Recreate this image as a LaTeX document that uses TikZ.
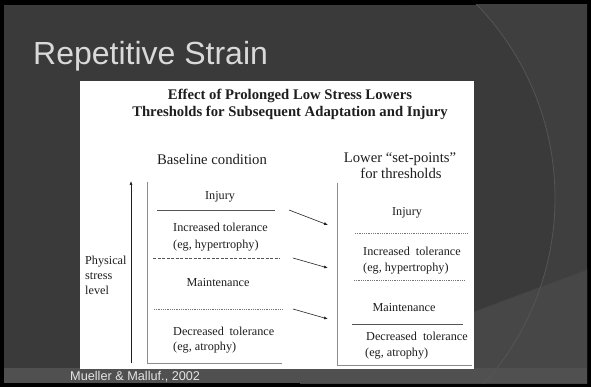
\documentclass[tikz,border=0pt]{standalone}
\usepackage{fontspec}
\setmainfont{Liberation Serif}
\newfontfamily\arialf{Liberation Sans}
\usetikzlibrary{arrows.meta}
\definecolor{slidebg}{HTML}{3A3A3A}
\definecolor{slidebgr}{HTML}{3F3F3F}
\definecolor{slidelow}{HTML}{474747}
\definecolor{footband}{HTML}{505050}
\definecolor{arcline}{HTML}{555555}
\definecolor{titlecol}{HTML}{D9D9D9}
\definecolor{inktext}{HTML}{1E1E1E}
\definecolor{inkline}{HTML}{555555}
\tikzset{
  heading/.style={font=\fontsize{14.7}{16}\selectfont\bfseries, text=inktext, inner sep=0pt, anchor=base, align=center},
  subhead/.style={font=\fontsize{14.7}{16}\selectfont, text=inktext, inner sep=0pt, anchor=base},
  lab/.style={font=\fontsize{12.2}{16}\selectfont, text=inktext, inner sep=0pt, anchor=base west},
  labc/.style={font=\fontsize{12.2}{16}\selectfont, text=inktext, inner sep=0pt, anchor=base},
  solidsep/.style={draw=inkline, line width=0.8pt},
  dashsep/.style={draw=inkline, line width=0.7pt, dash pattern=on 3pt off 1.5pt},
  dotsep/.style={draw=inkline!80, line width=0.7pt, dash pattern=on 1pt off 0.8pt},
  frameline/.style={draw=black!45, line width=0.8pt},
  shiftarrow/.style={draw=inktext, line width=0.6pt, -{Latex[length=4pt,width=3pt]}},
}
\begin{document}
\begin{tikzpicture}[x=1pt,y=-1pt]
\useasboundingbox (0,0) rectangle (591,387);
\fill[black] (0,0) rectangle (591,387);
\begin{scope}
  \clip (4,5) rectangle (587,383);
  \fill[slidebg] (4,5) rectangle (587,383);
  \begin{scope}
    \clip (400,0) rectangle (591,387);
    \fill[slidebgr, even odd rule] (400,0) rectangle (591,387) (277,198) circle (278);
  \end{scope}
  \fill[slidelow] (300,376.5) -- (591,268) -- (591,387) -- (300,387) -- cycle;
  \draw[black!75, line width=0.5pt] (300,376.5) -- (591,268);
  \fill[footband] (4,368) rectangle (587,383);
  \begin{scope}
    \clip (400,0) rectangle (591,387);
    \draw[arcline, line width=0.8pt] (277,198) circle (278);
  \end{scope}
\end{scope}
% title and footer
\node[font=\arialf\fontsize{32}{36}\selectfont, text=titlecol, anchor=base west, inner sep=0pt] (title) at (33,65) {Repetitive Strain};
% white figure
\fill[white] (80,81) rectangle (474,369);
\node[font=\arialf\fontsize{12.7}{14}\selectfont, text=white!90!black, anchor=base west, inner sep=0pt] (cite) at (70,380) {Mueller \& Malluf., 2002};

\node[heading] (h1) at (290,100) {Effect of Prolonged Low Stress Lowers};
\node[heading] (h2) at (290,117) {Thresholds for Subsequent Adaptation and Injury};

\node[subhead] (base) at (212,165) {Baseline condition};
\node[subhead] (low1) at (400,163) {Lower “set-points”};
\node[subhead] (low2) at (401,179) {for thresholds};

% left column
\coordinate (axbot) at (131,363);
\coordinate (axtop) at (131,181);
\draw[draw=inktext, line width=0.6pt, -{Latex[length=4pt,width=3pt]}] (axbot) -- (axtop);
\node[lab] (phys) at (85,265) {Physical};
\node[lab] (stress) at (85,279) {stress};
\node[lab] (level) at (85,294) {level};

\coordinate (lbtop) at (147,182);
\coordinate (lbcorner) at (147,363);
\coordinate (lbend) at (282,363);
\draw[frameline] (lbtop) -- (lbcorner) -- (lbend);

\node[labc] (linj) at (220,200) {Injury};
\coordinate (ls1a) at (157,210); \coordinate (ls1b) at (275,210);
\draw[solidsep] (ls1a) -- (ls1b);
\node[lab] (linc) at (173,232) {Increased tolerance};
\node[lab] (lhyp) at (173,248) {(eg, hypertrophy)};
\coordinate (ls2a) at (153,258); \coordinate (ls2b) at (280,258);
\draw[dashsep] (ls2a) -- (ls2b);
\node[labc] (lmain) at (218,286) {Maintenance};
\coordinate (ls3a) at (154,309); \coordinate (ls3b) at (282,309);
\draw[dotsep] (ls3a) -- (ls3b);
\node[lab] (ldec) at (173,335) {Decreased\hspace{2.5pt} tolerance};
\node[lab] (latr) at (173,350) {(eg, atrophy)};

% right column
\coordinate (rbtop) at (337,183);
\coordinate (rbcorner) at (337,365);
\coordinate (rbend) at (472,365);
\draw[frameline] (rbtop) -- (rbcorner) -- (rbend);

\node[labc] (rinj) at (407,216) {Injury};
\coordinate (rs1a) at (355,233); \coordinate (rs1b) at (468,233);
\draw[dotsep] (rs1a) -- (rs1b);
\node[lab] (rinc) at (363,255) {Increased\hspace{3pt} tolerance};
\node[lab] (rhyp) at (363,271) {(eg, hypertrophy)};
\coordinate (rs2a) at (354,280); \coordinate (rs2b) at (464,280);
\draw[dotsep] (rs2a) -- (rs2b);
\node[labc] (rmain) at (404,311) {Maintenance};
\coordinate (rs3a) at (352,324); \coordinate (rs3b) at (463,324);
\draw[solidsep, line width=0.6pt] (rs3a) -- (rs3b);
\node[lab] (rdec) at (366,340) {Decreased\hspace{3pt} tolerance};
\node[lab] (ratr) at (365,356) {(eg, atrophy)};

% shift arrows
\coordinate (a1s) at (289,210); \coordinate (a1e) at (328,225);
\coordinate (a2s) at (293,258); \coordinate (a2e) at (328,268);
\coordinate (a3s) at (293,309); \coordinate (a3e) at (328,319);
\draw[shiftarrow] (a1s) -- (a1e);
\draw[shiftarrow] (a2s) -- (a2e);
\draw[shiftarrow] (a3s) -- (a3e);
\end{tikzpicture}
\end{document}
